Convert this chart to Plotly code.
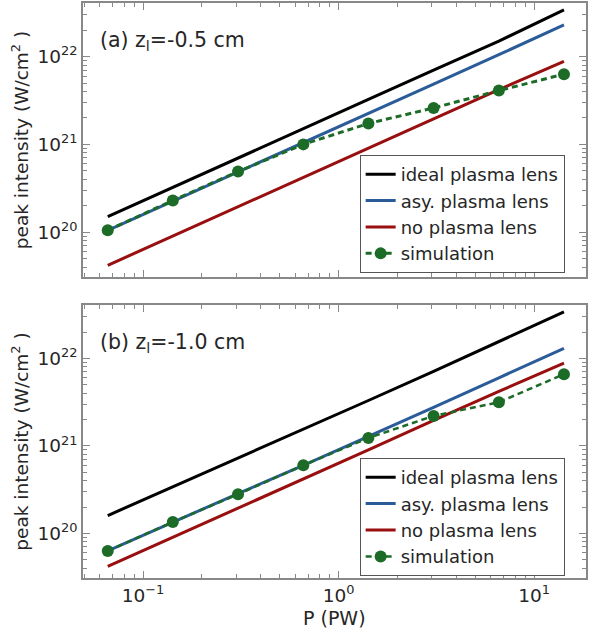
import plotly.graph_objects as go
from plotly.subplots import make_subplots

# ---- data ----
power_pw = [0.066, 0.142, 0.306, 0.66, 1.42, 3.06, 6.6, 14.2]

a_ideal = [1.5e20, 3.25e20, 7.0e20, 1.5e21, 3.25e21, 7.0e21, 1.5e22, 3.4e22]
a_asy = [1.05e20, 2.25e20, 4.85e20, 1.05e21, 2.25e21, 4.85e21, 1.05e22, 2.3e22]
a_none = [4.2e19, 9.0e19, 1.95e20, 4.2e20, 9.0e20, 1.95e21, 4.2e21, 8.8e21]
a_sim = [1.05e20, 2.3e20, 4.9e20, 1.0e21, 1.73e21, 2.6e21, 4.1e21, 6.3e21]

b_ideal = [1.6e20, 3.4e20, 7.2e20, 1.55e21, 3.3e21, 7.1e21, 1.55e22, 3.4e22]
b_asy = [6.3e19, 1.35e20, 2.85e20, 6.0e20, 1.27e21, 2.75e21, 6.0e21, 1.3e22]
b_none = [4.2e19, 9.0e19, 1.95e20, 4.2e20, 9.0e20, 1.95e21, 4.2e21, 8.8e21]
b_sim = [6.3e19, 1.35e20, 2.8e20, 6.0e20, 1.23e21, 2.2e21, 3.15e21, 6.6e21]

series_names = ["ideal plasma lens", "asy. plasma lens", "no plasma lens", "simulation"]
panel_labels = ["(a) z<sub>l</sub>=-0.5 cm", "(b) z<sub>l</sub>=-1.0 cm"]
x_title = "P (PW)"
y_title = "peak intensity (W/cm<sup>2</sup> )"
x_tickvals = [0.1, 1, 10]
x_ticktext = ["10<sup>\u22121</sup>", "10<sup>0</sup>", "10<sup>1</sup>"]
y_tickvals = [1e20, 1e21, 1e22]
y_ticktext = ["10<sup>20</sup>", "10<sup>21</sup>", "10<sup>22</sup>"]

colors = ["#000000", "#2b5c99", "#990f0f", "#1c6b27"]
FONT = "DejaVu Sans"
TXT = "#262626"

fig = make_subplots(rows=2, cols=1, shared_xaxes=False, vertical_spacing=0.05)

panels = [(a_ideal, a_asy, a_none, a_sim), (b_ideal, b_asy, b_none, b_sim)]
for i, data in enumerate(panels):
    row = i + 1
    leg = "legend" if i == 0 else "legend2"
    for j in range(3):
        fig.add_trace(go.Scatter(x=power_pw, y=data[j], mode="lines", name=series_names[j],
                                 line=dict(color=colors[j], width=3), legend=leg), row=row, col=1)
    fig.add_trace(go.Scatter(x=power_pw, y=data[3], mode="lines+markers", name=series_names[3],
                             line=dict(color=colors[3], width=3 if i == 0 else 2.5, dash="6px,4px"),
                             marker=dict(color=colors[3], size=12), legend=leg), row=row, col=1)

axis_common = dict(type="log", showgrid=False, zeroline=False, showline=True, linecolor="#888888",
                   linewidth=1.5, mirror="allticks", ticks="inside", ticklen=7, tickcolor="#888888",
                   minor=dict(ticks="inside", ticklen=4, tickcolor="#888888", dtick="D1", showgrid=False),
                   tickfont=dict(family=FONT, size=18.5, color=TXT))

xr = [-1.307, 1.265]
yr = [19.49, 22.61]
fig.update_xaxes(**axis_common, range=xr, tickvals=x_tickvals, ticktext=x_ticktext)
fig.update_xaxes(showticklabels=False, row=1, col=1)
fig.update_yaxes(**axis_common, range=yr, tickvals=y_tickvals, ticktext=y_ticktext,
                 title=dict(text=y_title, font=dict(family=FONT, size=18.5, color=TXT), standoff=4))

legend_common = dict(xanchor="left", yanchor="top", bgcolor="white", bordercolor="#555555", borderwidth=1,
                     font=dict(family=FONT, size=18, color=TXT), itemwidth=30)

fig.update_layout(
    width=589, height=630,
    margin=dict(l=83, r=1, t=3, b=52),
    plot_bgcolor="white", paper_bgcolor="white",
    xaxis=dict(domain=[0, 1]), yaxis=dict(domain=[0.5235, 1.0]),
    xaxis2=dict(domain=[0, 1]), yaxis2=dict(domain=[0.0, 0.4748]),
    legend=dict(x=0.55, y=0.7357, **legend_common),
    legend2=dict(x=0.55, y=0.2087, **legend_common),
)

for i, lab in enumerate(panel_labels):
    fig.add_annotation(text=lab, xref="x domain" if i == 0 else "x2 domain",
                       yref="y domain" if i == 0 else "y2 domain",
                       x=0.03, y=0.86, xanchor="left", yanchor="middle", showarrow=False,
                       font=dict(family=FONT, size=20.5, color=TXT))

# x-axis title as annotation so it can sit closer to the tick labels
fig.add_annotation(text=x_title, xref="x2 domain", yref="paper", x=0.5, y=-0.069,
                   xanchor="center", yanchor="middle", showarrow=False,
                   font=dict(family=FONT, size=19, color=TXT))

fig.write_html("out.html")
